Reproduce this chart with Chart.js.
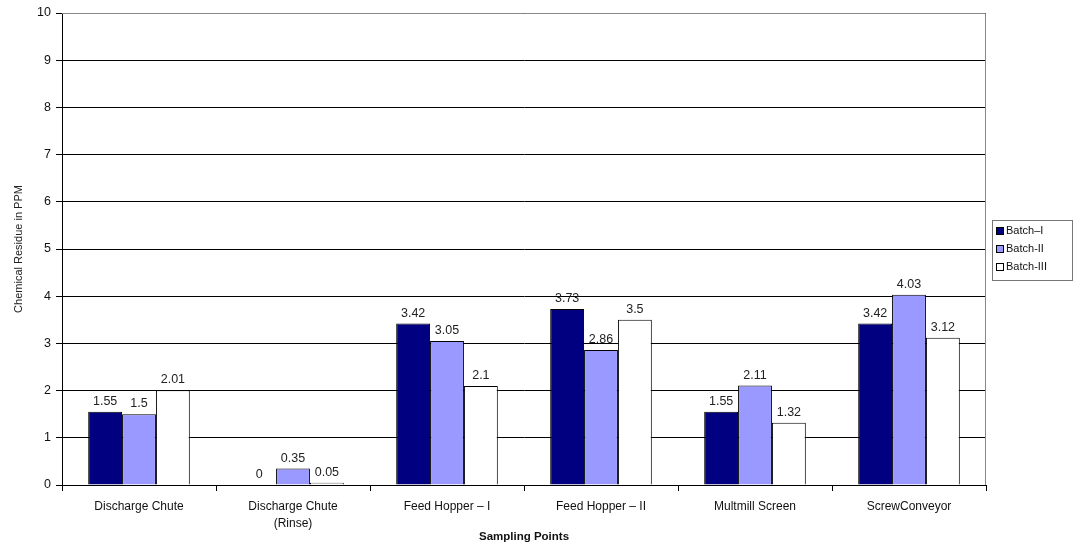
<!DOCTYPE html>
<html>
<head>
<meta charset="utf-8">
<script src="https://cdn.jsdelivr.net/npm/chart.js@4/dist/chart.umd.min.js"></script>
<style>
  html, body { margin: 0; padding: 0; background: #fff; }
  #wrap { width: 1075px; height: 545px; }
</style>
</head>
<body>
<div id="wrap"><canvas id="grafico" width="1075" height="545"></canvas></div>
<script>
// pontos de amostragem e resultados de cada lote (ppm)
const pontos = [["Discharge Chute"], ["Discharge Chute", "(Rinse)"], ["Feed Hopper \u2013 I"], ["Feed Hopper \u2013 II"], ["Multmill Screen"], ["ScrewConveyor"]];
const lote1 = [1.55, 0, 3.42, 3.73, 1.55, 3.42];
const lote2 = [1.5, 0.35, 3.05, 2.86, 2.11, 4.03];
const lote3 = [2.01, 0.05, 2.1, 3.5, 1.32, 3.12];
const nomesLotes = ["Batch\u2013I", "Batch-II", "Batch-III"];
const coresLotes = ["#000080", "#9999ff", "#ffffff"];

const FONTE = "'Liberation Sans', Arial, sans-serif";

// moldura cinza da área do gráfico + valores acima das barras
const extras = {
    id: 'extras',
    beforeDatasetsDraw(chart) {
        const a = chart.chartArea, ctx = chart.ctx;
        ctx.save();
        ctx.strokeStyle = '#888';
        ctx.lineWidth = 1;
        ctx.beginPath();
        ctx.moveTo(a.left, a.top + 0.5);
        ctx.lineTo(a.right - 0.5, a.top + 0.5);
        ctx.lineTo(a.right - 0.5, a.bottom);
        ctx.stroke();
        ctx.restore();
    },
    afterDatasetsDraw(chart) {
        const ctx = chart.ctx;
        ctx.save();
        ctx.font = "12.5px " + FONTE;
        ctx.fillStyle = '#222';
        ctx.textAlign = 'center';
        ctx.textBaseline = 'bottom';
        chart.data.datasets.forEach((ds, i) => {
            chart.getDatasetMeta(i).data.forEach((bar, j) => {
                ctx.fillText(String(ds.data[j]), bar.x, bar.y - 4);
            });
        });
        ctx.restore();
    },
    afterDraw(chart) {
        // legenda com borda, à direita
        const ctx = chart.ctx;
        const x0 = 992, y0 = 220, w = 80, h = 60;
        ctx.save();
        ctx.fillStyle = '#fff';
        ctx.fillRect(x0, y0, w, h);
        ctx.strokeStyle = '#777';
        ctx.lineWidth = 1;
        ctx.strokeRect(x0 + 0.5, y0 + 0.5, w, h);
        ctx.font = "11px " + FONTE;
        ctx.textBaseline = 'middle';
        chart.data.datasets.forEach((ds, i) => {
            const y = y0 + 11 + i * 18;
            ctx.fillStyle = ds.backgroundColor;
            ctx.fillRect(x0 + 4, y - 4, 8, 8);
            ctx.strokeStyle = '#000';
            ctx.strokeRect(x0 + 4.5, y - 3.5, 7, 7);
            ctx.fillStyle = '#111';
            ctx.fillText(ds.label, x0 + 14, y);
        });
        ctx.restore();
    }
};

const series = [lote1, lote2, lote3].map((d, i) => ({
    label: nomesLotes[i],
    data: d,
    backgroundColor: coresLotes[i],
    borderColor: '#000',
    borderWidth: 1,
    categoryPercentage: 0.66,
    barPercentage: 1.0
}));

new Chart(document.getElementById('grafico'), {
    type: 'bar',
    data: { labels: pontos, datasets: series },
    options: {
        responsive: false,
        animation: false,
        layout: { padding: { top: 13, right: 89, left: 12, bottom: 0 } },
        plugins: { legend: { display: false }, tooltip: { enabled: false } },
        scales: {
            x: {
                grid: { drawOnChartArea: false, drawTicks: true, tickLength: 6, color: '#000', offset: true },
                border: { color: '#000', width: 1 },
                ticks: { color: '#111', font: { family: FONTE, size: 12, lineHeight: 1.4 }, padding: 7, maxRotation: 0, autoSkip: false },
                title: { display: true, text: 'Sampling Points', color: '#111', font: { family: FONTE, size: 11.5, weight: 'bold' }, padding: { top: 2, bottom: 1 } },
                afterFit(s) { s.height = 60; }
            },
            y: {
                min: 0, max: 10,
                grid: { color: '#000', lineWidth: 1, tickLength: 6 },
                border: { color: '#000', width: 1 },
                ticks: { stepSize: 1, color: '#111', font: { family: FONTE, size: 12.5 }, padding: 5 },
                title: { display: true, text: 'Chemical Residue in PPM', color: '#222', font: { family: FONTE, size: 11 }, padding: 0 },
                afterFit(s) { s.width = 50; }
            }
        }
    },
    plugins: [extras]
});
</script>
</body>
</html>
